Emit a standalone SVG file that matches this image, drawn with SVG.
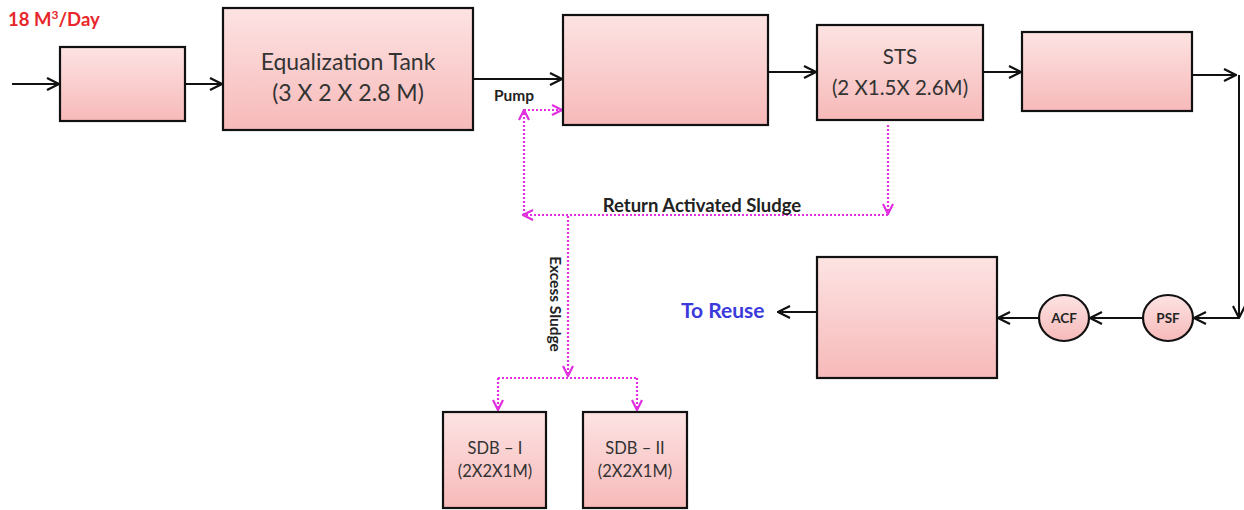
<svg xmlns="http://www.w3.org/2000/svg" width="1244" height="510" viewBox="0 0 1244 510">
<defs>
<linearGradient id="pk" x1="0" y1="0" x2="0" y2="1">
<stop offset="0" stop-color="#fde3e3"/>
<stop offset="1" stop-color="#f7b9b9"/>
</linearGradient>
<marker id="ah" viewBox="0 0 14 14" refX="13" refY="7" markerWidth="14" markerHeight="14" markerUnits="userSpaceOnUse" orient="auto">
<path d="M1,1 L13,7 L1,13" fill="none" stroke="#111" stroke-width="2.2"/>
</marker>
<marker id="mh" viewBox="0 0 12 12" refX="11" refY="6" markerWidth="12" markerHeight="12" markerUnits="userSpaceOnUse" orient="auto">
<path d="M1,1 L11,6 L1,11" fill="none" stroke="#e02ee0" stroke-width="2.2"/>
</marker>
</defs>
<style>
.box{fill:url(#pk);stroke:#111;stroke-width:2.2}
.t{font-family:Lato,"Liberation Sans",sans-serif;fill:#333;text-anchor:middle}
.b{font-family:Lato,"Liberation Sans",sans-serif;font-weight:bold;fill:#222}
.ln{fill:none;stroke:#111;stroke-width:2;marker-end:url(#ah)}
.dm{fill:none;stroke:#e02ee0;stroke-width:2.2;stroke-dasharray:2 2}
.dma{fill:none;stroke:#e02ee0;stroke-width:2.2;stroke-dasharray:2 2;marker-end:url(#mh)}
</style>
<g id="connectors">
<line class="ln" x1="12" y1="84" x2="59" y2="84"/>
<line class="ln" x1="185" y1="84" x2="222" y2="84"/>
<line class="ln" x1="473" y1="79" x2="562" y2="79"/>
<line class="ln" x1="768" y1="72" x2="816" y2="72"/>
<line class="ln" x1="983" y1="72" x2="1021" y2="72"/>
<line class="ln" x1="1192" y1="75" x2="1236" y2="75"/>
<polyline class="ln" points="1239,75 1239,318"/>
<line class="ln" x1="1239" y1="318" x2="1194" y2="318"/>
<line class="ln" x1="1143" y1="318" x2="1090" y2="318"/>
<line class="ln" x1="1039" y1="318" x2="998" y2="318"/>
<line class="ln" x1="817" y1="312" x2="778" y2="312"/>
<line class="dma" x1="888" y1="125" x2="888" y2="214"/>
<line class="dma" x1="888" y1="215" x2="523" y2="215"/>
<line class="dma" x1="524" y1="215" x2="524" y2="110"/>
<line class="dma" x1="524" y1="110" x2="562" y2="110"/>
<line class="dma" x1="568" y1="216" x2="568" y2="376"/>
<line class="dm" x1="498" y1="378" x2="637" y2="378"/>
<line class="dma" x1="498" y1="378" x2="498" y2="410"/>
<line class="dma" x1="637" y1="378" x2="637" y2="410"/>
</g>
<g id="inflow"><text class="b" x="8" y="26" font-size="18.5" style="fill:#e8262b">18 M<tspan font-size="12" dy="-7">3</tspan><tspan dy="7">/Day</tspan></text></g>
<g id="box1"><rect class="box" x="60" y="47" width="125" height="74"/></g>
<g id="eq"><rect class="box" x="223" y="8" width="250" height="122"/>
<text class="t" x="348" y="70" font-size="23">Equalization Tank</text>
<text class="t" x="348" y="101" font-size="23">(3 X 2 X 2.8 M)</text></g>
<g id="box3"><rect class="box" x="563" y="15" width="205" height="110"/></g>
<g id="sts"><rect class="box" x="817" y="25" width="166" height="95"/>
<text class="t" x="900" y="64" font-size="20.5">STS</text>
<text class="t" x="900" y="95" font-size="20.5">(2 X1.5X 2.6M)</text></g>
<g id="box5"><rect class="box" x="1022" y="32" width="170" height="79"/></g>
<g id="box6"><rect class="box" x="817" y="257" width="180" height="121"/></g>
<g id="psf"><ellipse class="box" cx="1168" cy="318" rx="25" ry="23"/><text class="b" x="1168" y="323" font-size="13.5" text-anchor="middle">PSF</text></g>
<g id="acf"><ellipse class="box" cx="1064" cy="318" rx="25" ry="23"/><text class="b" x="1064" y="323" font-size="13.5" text-anchor="middle">ACF</text></g>
<g id="sdb1"><rect class="box" x="443" y="412" width="103" height="96"/>
<text class="t" x="495" y="454" font-size="16.5">SDB – I</text>
<text class="t" x="495" y="477" font-size="16.5">(2X2X1M)</text></g>
<g id="sdb2"><rect class="box" x="583" y="412" width="104" height="96"/>
<text class="t" x="635" y="454" font-size="16.5">SDB – II</text>
<text class="t" x="635" y="477" font-size="16.5">(2X2X1M)</text></g>
<g id="labels">
<text class="b" x="494" y="101" font-size="15.5">Pump</text>
<text class="b" x="702" y="212" font-size="18.5" text-anchor="middle">Return Activated Sludge</text>
<text class="b" font-size="15.5" text-anchor="middle" transform="translate(550,304) rotate(90)">Excess Sludge</text>
<text class="b" x="681" y="318" font-size="21" style="fill:#3b3bdc">To Reuse</text>
</g>
</svg>
